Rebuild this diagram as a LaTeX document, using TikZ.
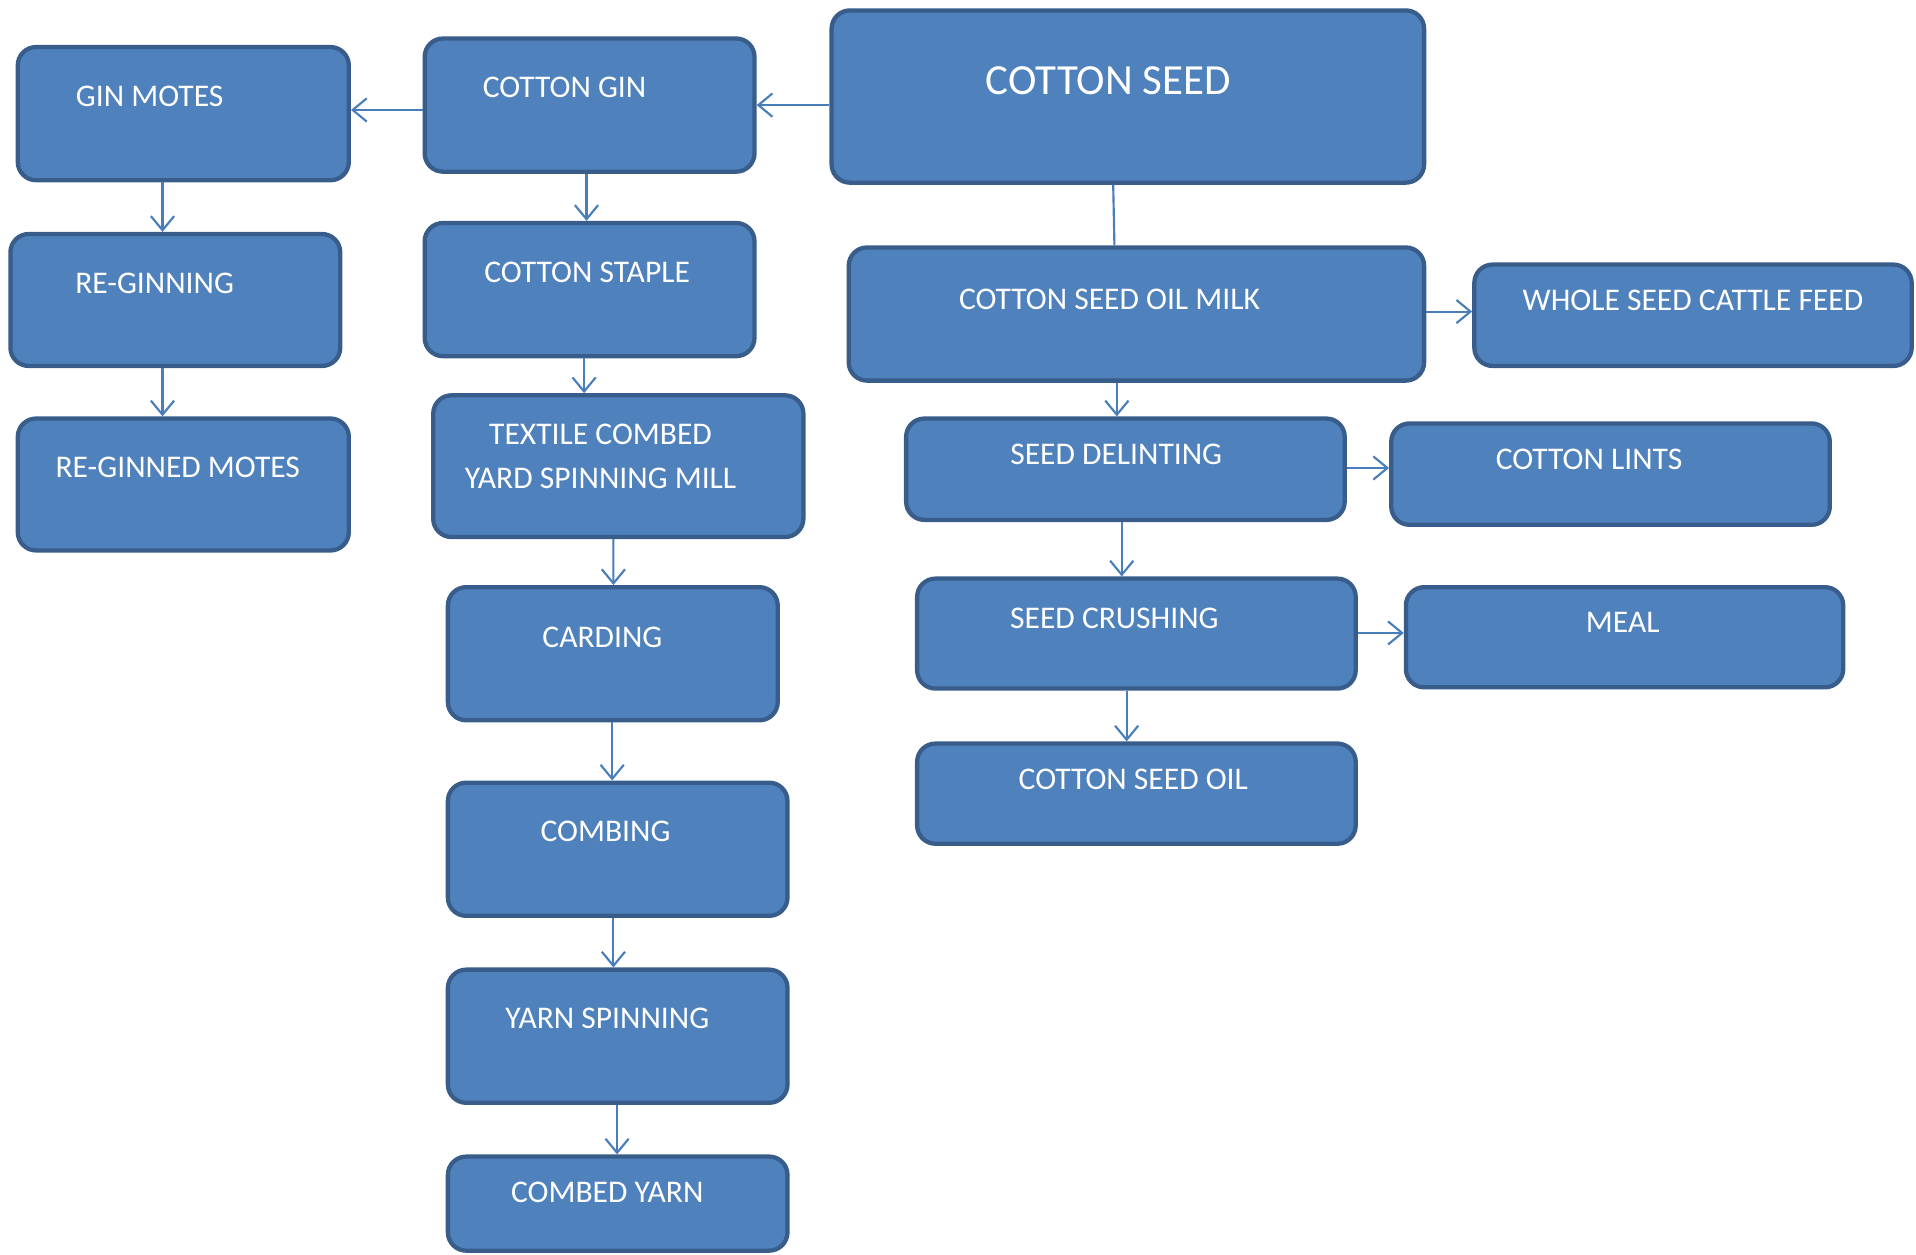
\documentclass[tikz,border=0pt]{standalone}
\usepackage{fontspec}
\setmainfont{Carlito}
\usepackage{tikz}
\usetikzlibrary{arrows.meta,positioning,calc}
\definecolor{boxfill}{HTML}{4F81BD}
\definecolor{boxline}{HTML}{385D8A}
\definecolor{arrowline}{HTML}{4A7EBB}

\begin{document}
\begin{tikzpicture}[x=0.02cm,y=-0.02cm,
    box/.style={draw=boxline, fill=boxfill, line width=2pt, rounded corners=0.3cm, inner sep=0pt},
    txt/.style={text=white, font=\fontsize{14.7}{20.5}\selectfont, inner sep=0pt, anchor=base},
    arr/.style={draw=arrowline, line width=1pt, -{Straight Barb[length=2.3mm,width=3.8mm]}},
    link/.style={draw=arrowline, line width=1pt}]
    \useasboundingbox (0,0) rectangle (1568,1027);

    % left column
    \node [box, minimum width=5.42cm, minimum height=2.18cm] (motes) at (150,93) {};
    \node [box, minimum width=5.40cm, minimum height=2.16cm] (reg) at (143.5,245.5) {};
    \node [box, minimum width=5.42cm, minimum height=2.16cm] (reginned) at (150,396.5) {};
    \node [txt] (motes-t) at (122.5,87) {GIN MOTES};
    \node [txt] (reg-t) at (126.5,240) {RE-GINNING};
    \node [txt] (reginned-t) at (145.5,391) {RE-GINNED MOTES};

    % middle column
    \node [box, minimum width=5.40cm, minimum height=2.18cm] (gin) at (482.5,86) {};
    \node [box, minimum width=5.40cm, minimum height=2.18cm] (staple) at (482.5,237) {};
    \node [box, minimum width=6.06cm, minimum height=2.32cm] (textile) at (506,381.5) {};
    \node [box, minimum width=5.40cm, minimum height=2.18cm] (carding) at (501.5,535) {};
    \node [box, minimum width=5.56cm, minimum height=2.18cm] (combing) at (505.5,695) {};
    \node [box, minimum width=5.56cm, minimum height=2.18cm] (yarn) at (505.5,848) {};
    \node [box, minimum width=5.56cm, minimum height=1.54cm] (combed) at (505.5,985) {};
    \node [txt] (gin-t) at (462,80) {COTTON GIN};
    \node [txt] (staple-t) at (480.5,231) {COTTON STAPLE};
    \node [txt, anchor=north, align=center] (textile-t) at (491.5,347) {TEXTILE COMBED\\YARD SPINNING MILL};
    \node [txt] (carding-t) at (493,530) {CARDING};
    \node [txt] (combing-t) at (495.5,689) {COMBING};
    \node [txt] (yarn-t) at (497,842) {YARN SPINNING};
    \node [txt] (combed-t) at (497,984) {COMBED YARN};

    % right part
    \node [box, minimum width=9.70cm, minimum height=2.82cm] (seed) at (923,79) {};
    \node [box, minimum width=9.42cm, minimum height=2.18cm] (oilmilk) at (930,257) {};
    \node [box, minimum width=7.16cm, minimum height=1.66cm] (whole) at (1385.5,258) {};
    \node [box, minimum width=7.18cm, minimum height=1.66cm] (delint) at (921,384) {};
    \node [box, minimum width=7.18cm, minimum height=1.66cm] (lints) at (1318,388) {};
    \node [box, minimum width=7.18cm, minimum height=1.80cm] (crush) at (930,518.5) {};
    \node [box, minimum width=7.16cm, minimum height=1.64cm] (meal) at (1329.5,521.5) {};
    \node [box, minimum width=7.18cm, minimum height=1.64cm] (oil) at (930,649.5) {};
    \node [txt, font=\fontsize{20}{24}\selectfont] (seed-t) at (907,77) {COTTON SEED};
    \node [txt] (oilmilk-t) at (908,253) {COTTON SEED OIL MILK};
    \node [txt] (whole-t) at (1385.5,254) {WHOLE SEED CATTLE FEED};
    \node [txt] (delint-t) at (913.5,380) {SEED DELINTING};
    \node [txt] (lints-t) at (1300.5,384) {COTTON LINTS};
    \node [txt] (crush-t) at (912,514) {SEED CRUSHING};
    \node [txt] (meal-t) at (1328,518) {MEAL};
    \node [txt] (oil-t) at (927.5,646) {COTTON SEED OIL};

    % connectors
    \draw [arr] (seed.west |- gin.east) -- (gin.east);
    \draw [arr] ($(gin.west)+(0,4)$) -- ($(motes.east)+(0,-3)$);
    \draw [arr] ($(motes.south)+(-17,0)$) -- ($(reg.north)+(-10.5,0)$);
    \draw [arr] ($(reg.south)+(-10.5,0)$) -- ($(reginned.north)+(-17,0)$);
    \draw [arr] ($(gin.south)+(-2.5,0)$) -- ($(staple.north)+(-2.5,0)$);
    \draw [arr] ($(staple.south)+(-4.5,0)$) -- ($(textile.north)+(-28,0)$);
    \draw [arr] ($(textile.south)+(-4,0)$) -- ($(carding.north)+(0.5,0)$);
    \draw [arr] ($(carding.south)+(-0.5,0)$) -- ($(combing.north)+(-4.5,0)$);
    \draw [arr] ($(combing.south)+(-3.5,0)$) -- ($(yarn.north)+(-3.5,0)$);
    \draw [arr] ($(yarn.south)+(-0.5,0)$) -- ($(combed.north)+(-0.5,0)$);
    \draw [link] ($(seed.south)+(-12,0)$) -- ($(oilmilk.north)+(-18,0)$);
    \draw [arr] ($(oilmilk.south)+(-16,0)$) -- ($(delint.north)+(-7,0)$);
    \draw [arr] ($(oilmilk.east)+(0,-2)$) -- ($(whole.west)+(0,-3)$);
    \draw [arr] ($(delint.east)+(0,-1)$) -- ($(lints.west)+(0,-5)$);
    \draw [arr] ($(delint.south)+(-3,0)$) -- ($(crush.north)+(-12,0)$);
    \draw [arr] ($(crush.east)+(0,-0.5)$) -- ($(meal.west)+(0,-3.5)$);
    \draw [arr] ($(crush.south)+(-8,0)$) -- ($(oil.north)+(-8,0)$);
\end{tikzpicture}
\end{document}
